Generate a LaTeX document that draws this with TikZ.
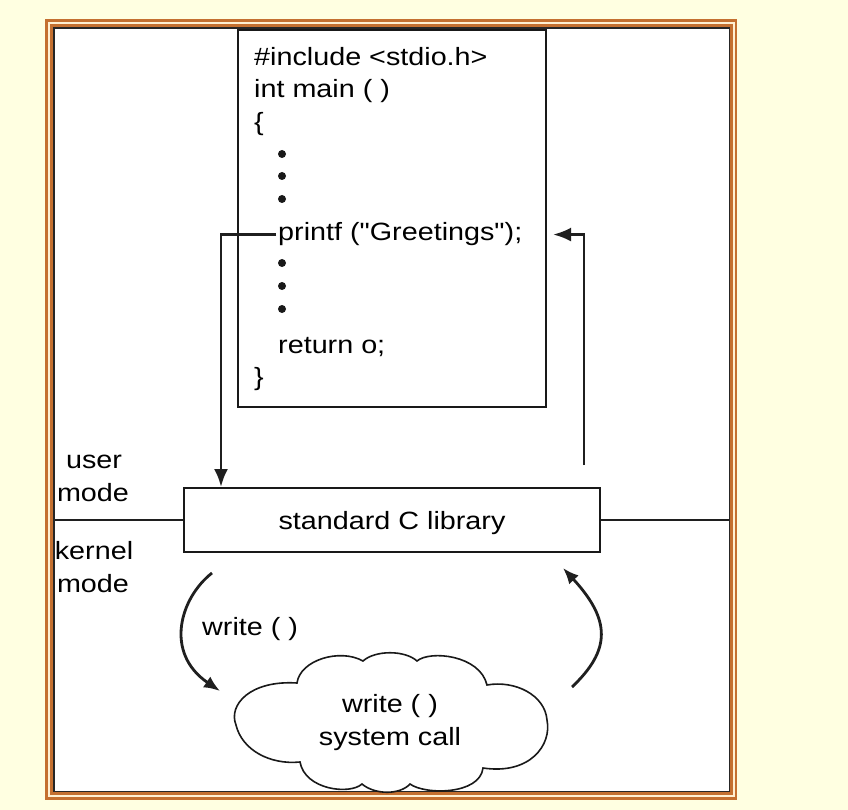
\documentclass[tikz,border=0pt]{standalone}
\usepackage{fontspec}
\setmainfont[FakeStretch=1.15,Ligatures=TeXOff]{Liberation Sans}
\usetikzlibrary{arrows.meta}
\definecolor{bgyel}{RGB}{255,255,225}
\definecolor{copper}{RGB}{196,112,48}
\definecolor{cream}{RGB}{255,240,210}
\begin{document}
\begin{tikzpicture}[x=1pt,y=-1pt,
  txt/.style={inner sep=0pt, anchor=base west, font=\fontsize{25}{30}\selectfont},
  ctxt/.style={inner sep=0pt, anchor=base, font=\fontsize{25}{30}\selectfont},
  box/.style={draw=black!90, line width=2pt, fill=white},
  conn/.style={line width=2.8pt, draw=black!88},
  arr/.style={conn, -{Latex[length=18pt,width=14pt]}},
  carr/.style={conn, -{Latex[length=16pt,width=13pt]}},
  dotm/.style={circle, fill=black!90, inner sep=0pt, minimum size=8pt}]
\useasboundingbox (0,0) rectangle (848,810);
\fill[bgyel] (0,0) rectangle (848,810);
% frame
\fill[copper] (45,19.5) rectangle (737,800);
\fill[cream] (47.5,22) rectangle (734.5,797.2);
\fill[copper] (49.5,24) rectangle (732.5,794.5);
\fill[black!85] (53,27.5) rectangle (730,792.3);
\fill[white] (55,29.5) rectangle (729,791);
% code box
\node[box, minimum width=308pt, minimum height=377pt, inner sep=0pt] (code) at (392,218.5) {};
\node[txt] (l1) at (254,66) {\#include <stdio.h>};
\node[txt] (l2) at (254,98) {int main ( )};
\node[txt] (l3) at (254,131) {\{};
\node[dotm] (d1) at (282,154) {};
\node[dotm] (d2) at (282,176) {};
\node[dotm] (d3) at (282,199) {};
\node[txt] (printf) at (278,241) {printf ("Greetings");};
\node[dotm] (d4) at (282,263) {};
\node[dotm] (d5) at (282,286) {};
\node[dotm] (d6) at (282,309) {};
\node[txt] (ret) at (278,353) {return o;};
\node[txt] (l9) at (254,385) {\}};
% library
\node[box, minimum width=416pt, minimum height=64pt, text height=18pt, text depth=0pt, font=\fontsize{25}{30}\selectfont] (lib) at (392,520) {standard C library};
\coordinate (fl) at (55,520);
\coordinate (fr) at (729,520);
\draw[conn] (lib.west) -- (fl);
\draw[conn] (lib.east) -- (fr);
% mode labels
\node[ctxt] (u1) at (94,468) {user};
\node[ctxt] (u2) at (93,501) {mode};
\node[ctxt] (k1) at (94,559) {kernel};
\node[ctxt] (k2) at (93,592) {mode};
% arrows
\coordinate (lt) at ([xshift=38pt]lib.north west);
\draw[arr] ([xshift=-2pt]printf.west) -| (lt);
\coordinate (rs) at ([xshift=-17pt,yshift=22pt]lib.north east);
\coordinate (rmid) at (code.east |- printf.east);
\coordinate (re) at ([xshift=6pt]rmid);
\draw[arr] (rs) |- (re);
% cloud
\draw[line width=1.6pt, draw=black!90, fill=white]
  (297,683) .. controls (300,660) and (340,648) .. (363,661)
  .. controls (375,650) and (405,650) .. (417,661)
  .. controls (430,650) and (480,655) .. (487,685)
  .. controls (515,680) and (545,695) .. (547,720)
  .. controls (552,745) and (530,775) .. (483,768)
  .. controls (480,795) and (425,795) .. (410,784)
  .. controls (400,795) and (375,795) .. (362,784)
  .. controls (350,795) and (305,790) .. (300,762)
  .. controls (270,765) and (242,750) .. (236,725)
  .. controls (228,705) and (250,680) .. cycle;
\node[ctxt] (s1) at (390,712) {write ( )};
\node[ctxt] (s2) at (390,745) {system call};
\node[txt] (wr) at (202,635) {write ( )};
% curved arrows
\coordinate (c1s) at (212,573);
\coordinate (c1e) at (220,691);
\draw[carr] (c1s) .. controls (180,598) and (164,653) .. (c1e);
\coordinate (c2s) at (572,687);
\coordinate (c2e) at (563,568);
\draw[carr] (c2s) .. controls (611,650) and (611,620) .. (c2e);
\end{tikzpicture}
\end{document}
